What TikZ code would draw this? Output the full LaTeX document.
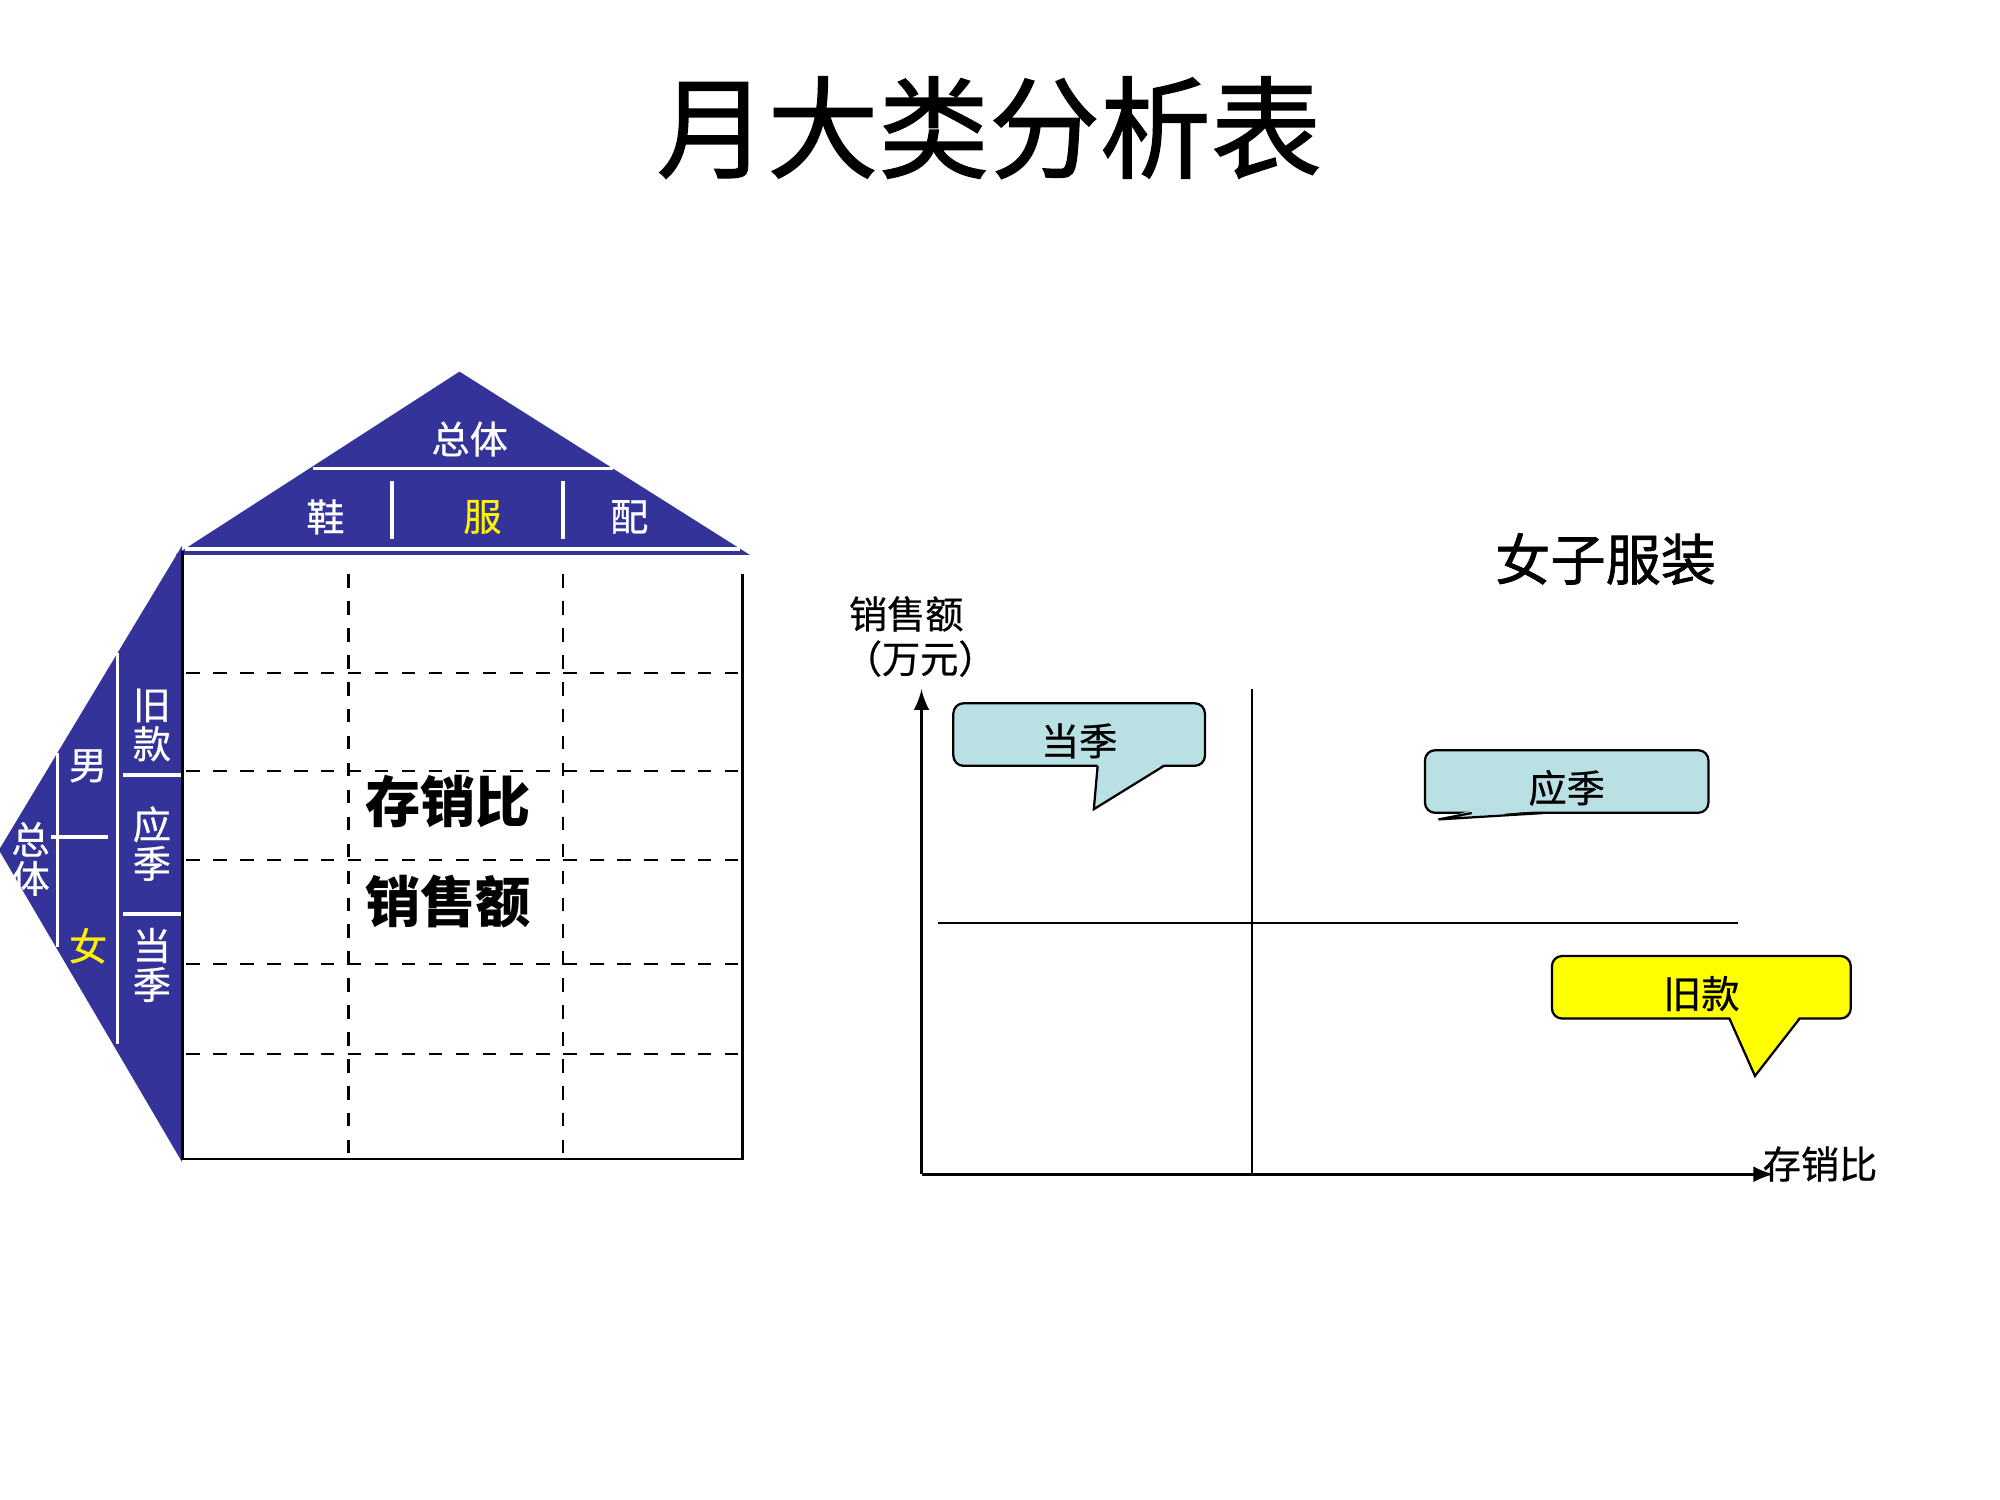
\documentclass[tikz,border=0pt]{standalone}
\usepackage{fontspec}
\setmainfont{Noto Sans CJK SC}
\newfontfamily\heavyfont{Noto Sans CJK SC}[FakeBold=1.2]
\newfontfamily\medfont{Noto Sans CJK SC}[FakeBold=0.6]
\usepackage{xcolor}
\usepackage{tikz}

\definecolor{roofblue}{HTML}{333399}
\definecolor{tipblue}{HTML}{B9E0E3}
\definecolor{tipyellow}{HTML}{FFFF00}

\newcommand{\low}[1]{\raisebox{-1.4pt}[\height][\depth]{#1}}

\begin{document}
\begin{tikzpicture}[x=0.01cm, y=-0.01cm,
        roof/.style={fill=roofblue, draw=roofblue},
        wline/.style={white, line width=0.8pt},
        wtext/.style={text=white, inner sep=0pt, align=center, font=\fontsize{8.5}{8.7}\medfont},
        gridline/.style={dashed, line width=0.5pt},
        bubble/.style={draw, rounded corners=0.08cm, line width=0.5pt, minimum height=0.49cm, inner sep=0pt, font=\fontsize{8.5}{9}\medfont},
        small/.style={inner sep=0pt, font=\fontsize{8.5}{9}\medfont},
        big/.style={inner sep=0pt, font=\fontsize{12.3}{13}\selectfont\bfseries}]
        \useasboundingbox (0, 0) rectangle (1567, 1175);

        \node [inner sep=0pt, font=\fontsize{24.7}{26}\heavyfont] (title) at (775, 100) {月大类分析表};

        % roof
        \draw[roof] (140, 434) -- (360, 292) -- (585, 434) -- cycle;
        \draw[wline] (245, 367) -- (480, 367);
        \foreach \x in {307, 441} {
            \draw[wline] (\x, 377) -- (\x, 422);
        }
        \draw[wline] (145, 430) -- (580, 430);
        \node[wtext] (zongti) at (368, 344) {总体};
        \node[wtext] (xie) at (255, 405) {鞋};
        \node[wtext, text=yellow] (fu) at (378, 405) {服};
        \node[wtext] (pei) at (493, 405) {配};

        % left wing
        \draw[roof] (142, 430) -- (0, 666) -- (142, 908) -- cycle;
        \draw[wline] (45, 590) -- (45, 742);
        \draw[wline] (92, 512) -- (92, 818);
        \draw[wline] (40, 656) -- (85, 656);
        \foreach \y in {607, 716} {
            \draw[wline] (96, \y) -- (142, \y);
        }
        \node[wtext] (zongti2) at (24, 673) {总\\体};
        \node[wtext] (nan) at (69, 600) {男};
        \node[wtext, text=yellow] (nv) at (69, 741) {女};
        \node[wtext] (jiukuan) at (119, 568) {旧\\款};
        \node[wtext] (yingji) at (119, 661) {应\\季};
        \node[wtext] (dangji) at (119, 756) {当\\季};

        % grid
        \draw[line width=0.6pt] (143, 432) -- (143, 908) -- (582, 908) -- (582, 450);
        \foreach \y in {527, 604, 674, 755, 826} {
            \draw[gridline] (146, \y) -- (582, \y);
        }
        \foreach \x in {273, 441} {
            \draw[gridline] (\x, 450) -- (\x, 907);
        }
        \node[big] (cxb) at (351, 628) {存销比};
        \node[big] (xse) at (351, 706) {销售额};

        % chart
        \node[big, font=\fontsize{12.3}{13}\heavyfont] (nvzi) at (1258, 438) {女子服装};
        \node[small] (ylab) at (710, 481) {销售额};
        \node[small] (yunit) at (721, 516) {（万元）};
        \coordinate (o) at (722, 920);
        \coordinate (ytop) at (722, 540);
        \coordinate (xend) at (1390, 920);
        \draw[-latex, line width=0.6pt] (o) -- (ytop);
        \draw[-latex, line width=0.6pt] (o) -- (xend);
        \node[small] (xlab) at (1426, 912) {存销比};
        \draw (981, 540) -- (981, 920);
        \draw (735, 723) -- (1362, 723);

        % bubbles
        \node[bubble, fill=tipblue, minimum width=1.97cm] (b1) at (845.5, 575.5) {\low{当季}};
        \fill[tipblue] (913, 598) -- (857, 634) -- (860, 598) -- cycle;
        \draw[line width=0.5pt] (912, 600) -- (857, 634) -- (860, 600);

        \node[bubble, fill=tipblue, minimum width=2.22cm] (b2) at (1227.5, 612.3) {\low{应季}};
        \fill[tipblue] (1153, 635) -- (1127, 642) -- (1209, 635) -- cycle;
        \draw[line width=0.5pt] (1153, 637) -- (1127, 642) -- (1209, 637);

        \node[bubble, fill=tipyellow, minimum width=2.34cm] (b3) at (1333, 773.5) {\low{旧款}};
        \fill[tipyellow] (1355, 796) -- (1375, 843) -- (1410, 796) -- cycle;
        \draw[line width=0.5pt] (1355, 798) -- (1375, 843) -- (1410, 798);
\end{tikzpicture}
\end{document}
